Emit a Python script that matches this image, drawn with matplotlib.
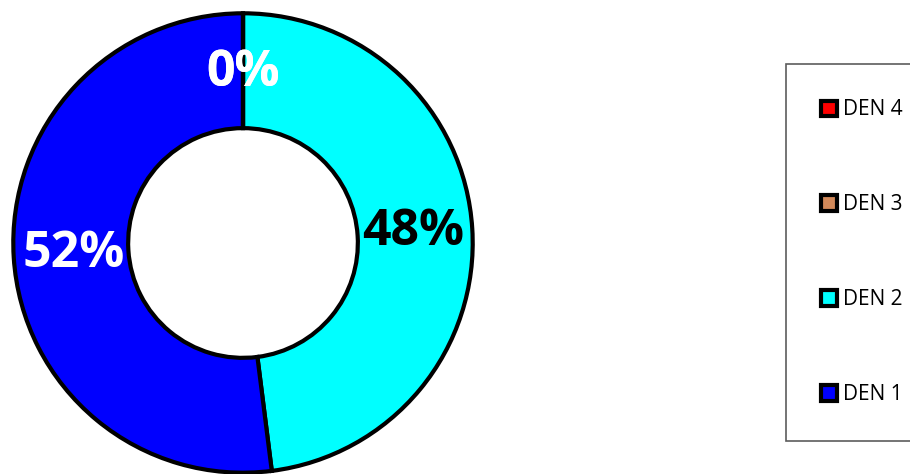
import matplotlib
matplotlib.use("Agg")
import matplotlib.pyplot as plt
from matplotlib.patches import Patch

labels = ["DEN 2", "DEN 1", "DEN 3", "DEN 4"]
values = [48, 52, 0, 0]
colors = ["#00FFFF", "#0000FF", "#D2895A", "#FF0000"]
legend_order = ["DEN 4", "DEN 3", "DEN 2", "DEN 1"]

fig = plt.figure(figsize=(9.10, 4.74), dpi=100)
ax = fig.add_axes([11/910, -1/474, 464/910, 464/474])
wedges, texts, autotexts = ax.pie(values, colors=colors, startangle=90, counterclock=False,
    radius=1, autopct="%d%%", pctdistance=0.74,
    wedgeprops=dict(width=0.5, edgecolor="black", linewidth=3),
    textprops=dict(fontsize=36, fontweight="bold", family="Open Sans"))
for lab, t in zip(labels, autotexts):
    t.set_color("black" if lab == "DEN 2" else "white")
ax.set_xlim(-1.01, 1.01); ax.set_ylim(-1.01, 1.01)
ax.set_aspect("equal")

cmap = dict(zip(labels, colors))
handles = [Patch(facecolor=cmap[l], edgecolor="black", linewidth=3) for l in legend_order]
leg = fig.legend(handles, legend_order, loc="upper left", bbox_to_anchor=(786/910, 1-64/474),
    frameon=True, fancybox=False, edgecolor="#333333", labelspacing=3.55,
    handlelength=0.75, handleheight=0.75, handletextpad=0.3, borderpad=1.7, borderaxespad=0,
    prop={"family": "Open Sans", "size": 15})
leg.get_frame().set_linewidth(1.2)
fig.savefig("out.png", dpi=100)
